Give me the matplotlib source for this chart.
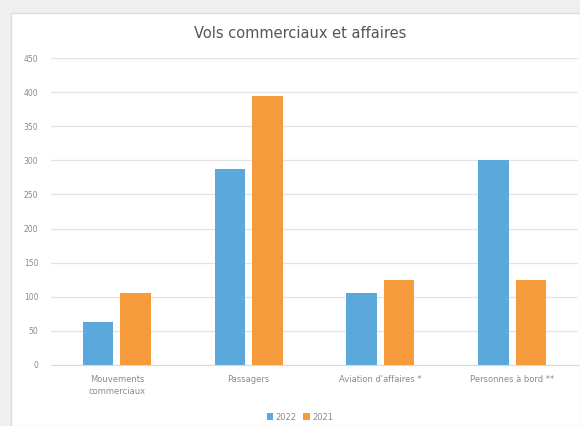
import numpy as np
import matplotlib
matplotlib.use("Agg")
import matplotlib.pyplot as plt
from matplotlib.patches import Rectangle

# Donnees --------------------------------------------------------------
categories = ["Mouvements\ncommerciaux", "Passagers",
              "Aviation d'affaires *", "Personnes à bord **"]
values_2022 = [63, 288, 106, 300]
values_2021 = [105, 395, 125, 125]
yticks = [0, 50, 100, 150, 200, 250, 300, 350, 400, 450]

blue = "#5ba8dc"
orange = "#f59b3c"
grey_text = "#8a8a8a"

W, H = 580, 426
fig = plt.figure(figsize=(W / 100, H / 100), dpi=100)
fig.patch.set_facecolor("#efefef")

# carte blanche du graphique (derriere les axes)
card = Rectangle((11 / W, 0), 1 - 11 / W, 1 - 13 / H, transform=fig.transFigure,
                 facecolor="white", edgecolor="#dcdcdc", linewidth=1.0, zorder=-5)
fig.patches.append(card)

ax = fig.add_axes([51 / W, 1 - 365 / H, (578 - 51) / W, (365 - 58) / H])
ax.set_facecolor("white")
ax.set_zorder(2)

x = np.arange(len(categories))
bw = 0.232
gap = 0.053
ax.bar(x - (bw + gap) / 2, values_2022, bw, color=blue, label="2022", zorder=3)
ax.bar(x + (bw + gap) / 2, values_2021, bw, color=orange, label="2021", zorder=3)

ax.set_xlim(-0.5, len(categories) - 0.5)
ax.set_ylim(0, 450)
ax.set_yticks(yticks)
ax.set_yticklabels([str(v) for v in yticks], fontsize=5.5, color=grey_text)
ax.set_xticks(x)
ax.set_xticklabels(categories, fontsize=6, color=grey_text, linespacing=1.5)
ax.tick_params(length=0, pad=7)
ax.tick_params(axis="y", pad=9)
ax.grid(axis="y", color="#e3e3e3", linewidth=0.9, zorder=0)
for s in ["top", "right", "left"]:
    ax.spines[s].set_visible(False)
ax.spines["bottom"].set_color("#d9d9d9")

fig.text(300 / W, 1 - 33 / H, "Vols commerciaux et affaires", ha="center",
         va="center", fontsize=10.5, color="#555555")

leg = fig.legend(loc="center", bbox_to_anchor=(300 / W, 1 - 417 / H), ncol=2,
                 frameon=False, fontsize=6, handlelength=0.8, handleheight=0.8,
                 handletextpad=0.3, columnspacing=0.8)
for t in leg.get_texts():
    t.set_color(grey_text)

fig.savefig("out.png", dpi=100, facecolor=fig.get_facecolor())
